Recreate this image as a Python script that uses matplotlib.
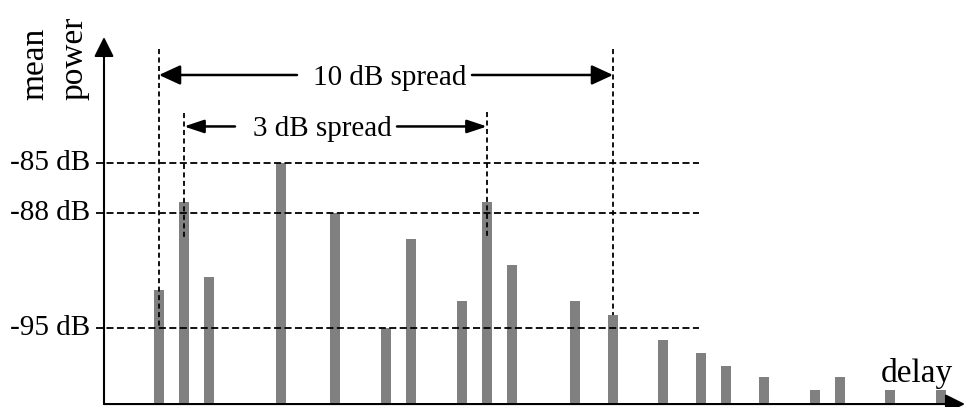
import matplotlib.pyplot as plt

# delay (arbitrary units) and mean power (dB) of each path
delay = [2.2, 3.2, 4.2, 7.08, 9.24, 11.28, 12.28, 14.32, 15.32, 16.32,
         18.84, 20.36, 22.36, 23.88, 24.88, 26.4, 28.44, 29.44, 31.44, 33.48]
power = [-92.7, -87.35, -91.9, -85.0, -88.05, -95.0, -89.6, -93.4, -87.35, -91.2,
         -93.4, -94.2, -95.75, -96.55, -97.35, -98.0, -98.8, -98.0, -98.8, -98.8]

levels = [-85, -88, -95]
level_labels = ['-85 dB', '-88 dB', '-95 dB']
floor = -99.64

plt.rcParams['font.family'] = ['Liberation Serif', 'DejaVu Serif']

fig = plt.figure(figsize=(9.65, 4.07), dpi=100)
ax = fig.add_axes([0, 0, 1, 1])
ax.set_xlim(-4.16, 34.44)
ax.set_ylim(-99.82, -75.07)
ax.axis('off')

# bars
ax.bar(delay, [p - floor for p in power], bottom=floor, width=0.4,
       color='#808080', zorder=2)

# dashed level lines
for lv, lab in zip(levels, level_labels):
    ax.plot([-0.32, 23.8], [lv, lv], color='black', lw=1.3,
            ls=(0, (3.9, 1.9)), zorder=3)
    ax.text(-0.56, lv, lab, ha='right', va='center', fontsize=21)

# vertical dashed markers
vlines = [(2.2, -78.05, -95.0), (3.2, -81.95, -89.6),
          (15.32, -81.9, -89.6), (20.36, -78.05, -94.2)]
for x, y0, y1 in vlines:
    ax.plot([x, x], [y0, y1], color='black', lw=1.3, ls=(0, (2.8, 1.9)), zorder=3)

# axes with arrows
ax.annotate('', xy=(0, -77.32), xytext=(0, floor),
            arrowprops=dict(arrowstyle='-|>,head_length=0.6,head_width=0.3',
                            lw=1.5, color='black', mutation_scale=20,
                            shrinkA=0, shrinkB=0))
ax.annotate('', xy=(34.44, floor), xytext=(0, floor),
            arrowprops=dict(arrowstyle='-|>,head_length=0.6,head_width=0.3',
                            lw=1.5, color='black', mutation_scale=20,
                            shrinkA=0, shrinkB=0))

ax.text(-2.76, -81.15, 'mean', rotation=90, ha='center', va='bottom', fontsize=24)
ax.text(-1.2, -81.15, 'power', rotation=90, ha='center', va='bottom', fontsize=24)
ax.text(32.5, -98.3, 'delay', ha='center', va='baseline', fontsize=24)

# spread arrows
def spread(x0, x1, tx, ty, label, gap0, gap1, hl, hw):
    style = '-|>,head_length=%g,head_width=%g' % (hl, hw)
    ax.annotate('', xy=(x0, ty), xytext=(gap0, ty),
                arrowprops=dict(arrowstyle=style, lw=1.8, color='black',
                                mutation_scale=20, shrinkA=0, shrinkB=0))
    ax.annotate('', xy=(x1, ty), xytext=(gap1, ty),
                arrowprops=dict(arrowstyle=style, lw=1.8, color='black',
                                mutation_scale=20, shrinkA=0, shrinkB=0))
    ax.text(tx, ty, label, ha='center', va='center_baseline', fontsize=21)

spread(2.2, 20.36, 11.44, -79.63, '10 dB spread', 7.72, 14.72, 0.65, 0.3)
spread(3.2, 15.32, 8.72, -82.76, '3 dB spread', 5.24, 11.72, 0.6, 0.2)

fig.savefig('out.png', dpi=100)
